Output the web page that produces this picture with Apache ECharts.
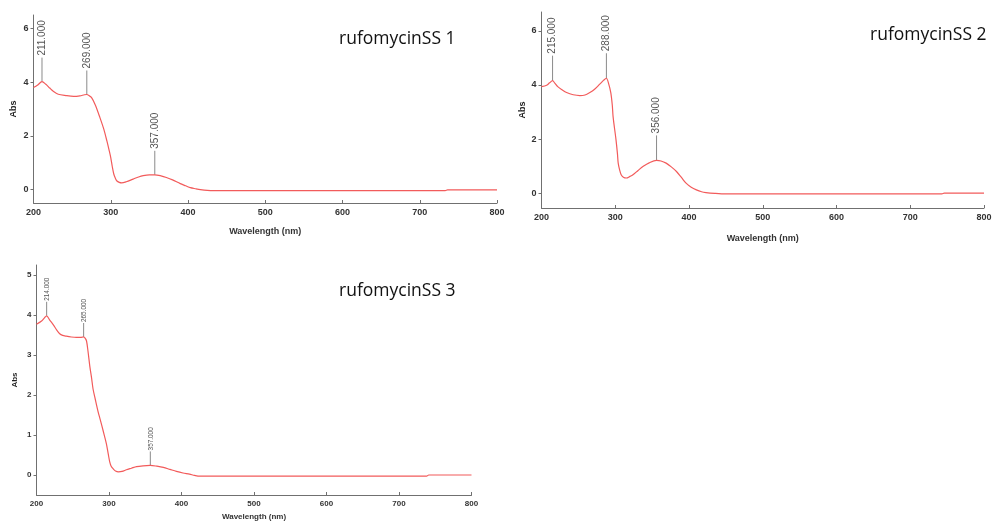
<!DOCTYPE html>
<html>
<head>
<meta charset="utf-8">
<script src="https://cdn.jsdelivr.net/npm/echarts@6/dist/echarts.min.js"></script>
<style>
html,body{margin:0;padding:0;background:#fff;}
#main{width:995px;height:522px;}
</style>
</head>
<body>
<div id="main"></div>
<script>
// ---- Data ----
var titles = ['rufomycinSS 1', 'rufomycinSS 2', 'rufomycinSS 3'];
var xTicks = [200, 300, 400, 500, 600, 700, 800];
var yTicks1 = [0, 2, 4, 6];
var yTicks2 = [0, 2, 4, 6];
var yTicks3 = [0, 1, 2, 3, 4, 5];

var spectrum1 = [
  [200, 3.80], [205, 3.88], [211, 4.02], [216, 3.92], [221, 3.78], [226, 3.65], [232, 3.55],
  [242, 3.50], [252, 3.47], [260, 3.49], [266, 3.53], [269, 3.54], [272, 3.50], [275, 3.43],
  [280, 3.15], [286, 2.68], [291, 2.25], [295, 1.81], [298, 1.45], [300, 1.19], [302, 0.85],
  [304, 0.57], [306, 0.42], [308, 0.32], [311, 0.27], [314, 0.25], [320, 0.29], [329, 0.39],
  [336, 0.47], [342, 0.52], [350, 0.55], [357, 0.55], [365, 0.51], [372, 0.45], [380, 0.36],
  [390, 0.22], [397, 0.14], [403, 0.07], [410, 0.03], [416, 0.00], [425, -0.03], [433, -0.04],
  [500, -0.04], [600, -0.04], [700, -0.04], [733, -0.04], [736, -0.01], [760, -0.01], [800, -0.01]
];
var spectrum2 = [
  [200, 3.94], [207, 3.99], [211, 4.08], [215, 4.16], [218, 4.07], [222, 3.94], [228, 3.82],
  [234, 3.72], [243, 3.64], [252, 3.61], [259, 3.63], [265, 3.71], [272, 3.84], [279, 4.03],
  [284, 4.17], [288, 4.25], [291, 4.05], [294, 3.71], [296, 3.25], [297, 2.85], [299, 2.40],
  [301, 1.98], [303, 1.45], [304, 1.11], [306, 0.85], [308, 0.68], [311, 0.59], [315, 0.56],
  [320, 0.62], [324, 0.68], [331, 0.84], [338, 0.99], [346, 1.12], [356, 1.21], [362, 1.19],
  [369, 1.11], [376, 0.97], [383, 0.80], [390, 0.57], [396, 0.37], [403, 0.22], [410, 0.12],
  [417, 0.05], [423, 0.02], [435, -0.01], [450, -0.03], [550, -0.03], [650, -0.03], [743, -0.03],
  [746, 0.00], [800, 0.00]
];
var spectrum3 = [
  [200, 3.77], [207, 3.85], [211, 3.93], [214, 3.98], [218, 3.88], [223, 3.76], [228, 3.62],
  [232, 3.53], [236, 3.49], [241, 3.47], [248, 3.45], [255, 3.44], [261, 3.44], [265, 3.45],
  [267, 3.42], [269, 3.35], [271, 3.10], [273.6, 2.71], [276, 2.42], [278, 2.15], [281, 1.90],
  [285, 1.58], [288, 1.38], [292, 1.10], [294.5, 0.92], [296.5, 0.77], [299, 0.52], [301, 0.33],
  [303, 0.22], [306, 0.15], [309, 0.10], [313, 0.08], [318, 0.09], [324, 0.13], [331, 0.17],
  [338, 0.21], [347, 0.23], [357, 0.24], [366, 0.22], [375, 0.19], [384, 0.14], [393, 0.09],
  [402, 0.05], [411, 0.02], [418, -0.01], [425, -0.03], [500, -0.03], [600, -0.03], [700, -0.03],
  [738, -0.03], [741, 0.00], [800, 0.00]
];

var peaks1 = [[211, 4.02, '211.000'], [269, 3.54, '269.000'], [357, 0.55, '357.000']];
var peaks2 = [[215, 4.16, '215.000'], [288, 4.25, '288.000'], [356, 1.21, '356.000']];
var peaks3 = [[214, 3.98, '214.000'], [265, 3.45, '265.000'], [357, 0.24, '357.000']];

// ---- Chart ----
var chart = echarts.init(document.getElementById('main'), null, {renderer: 'canvas'});
var axisColor = '#707070';
var lineColor = '#f25b5b';
var labelFont = 'Liberation Sans, Arial, sans-serif';

function xAxisFor(gridIndex, nameGap, fontSize) {
  return {
    type: 'value', gridIndex: gridIndex, min: 200, max: 800, interval: 100,
    name: 'Wavelength (nm)', nameLocation: 'middle', nameGap: nameGap,
    nameTextStyle: {color: '#333', fontWeight: 'bold', fontSize: fontSize, fontFamily: labelFont},
    axisLine: {show: true, onZero: false, lineStyle: {color: axisColor, width: 1}},
    axisTick: {show: true, inside: true, length: 3, lineStyle: {color: axisColor}},
    axisLabel: {color: '#333', fontWeight: 'bold', fontSize: fontSize, fontFamily: labelFont, margin: 5,
      customValues: xTicks},
    splitLine: {show: false}
  };
}
function yAxisFor(gridIndex, min, max, ticks, nameGap, fontSize) {
  return {
    type: 'value', gridIndex: gridIndex, min: min, max: max,
    name: 'Abs', nameLocation: 'middle', nameGap: nameGap, nameRotate: 90,
    nameTextStyle: {color: '#222', fontWeight: 'bold', fontSize: fontSize, fontFamily: labelFont},
    axisLine: {show: true, onZero: false, lineStyle: {color: axisColor, width: 1}},
    axisTick: {show: true, length: 3, lineStyle: {color: axisColor}, customValues: ticks},
    axisLabel: {color: '#333', fontWeight: 'bold', fontSize: fontSize, fontFamily: labelFont, margin: 5,
      customValues: ticks},
    splitLine: {show: false}
  };
}

function lineSeries(idx, data) {
  return {
    type: 'line', xAxisIndex: idx, yAxisIndex: idx, data: data, smooth: 0.3,
    showSymbol: false, symbol: 'none',
    lineStyle: {color: lineColor, width: 1.2}, silent: true, animation: false
  };
}
function peakSeries(idx, data, stemLen, fontSize, gap, squeeze) {
  return {
    type: 'custom', xAxisIndex: idx, yAxisIndex: idx, data: data, animation: false, silent: true,
    renderItem: function (params, api) {
      var p = api.coord([api.value(0), api.value(1)]);
      var label = data[params.dataIndex][2];
      return {
        type: 'group',
        children: [
          {type: 'line', shape: {x1: p[0], y1: p[1], x2: p[0], y2: p[1] - stemLen},
            style: {stroke: '#8a8a8a', lineWidth: 1}},
          {type: 'text', x: p[0], y: p[1] - stemLen - gap, rotation: Math.PI / 2, scaleX: squeeze,
            style: {text: label, fill: '#555', font: fontSize + 'px ' + labelFont,
              align: 'left', verticalAlign: 'middle'}}
        ]
      };
    }
  };
}

var titleStyle = {fontFamily: 'Open Sans, sans-serif', fontWeight: 'normal', fontSize: 17.5, color: '#111'};
var option = {
  backgroundColor: '#ffffff',
  animation: false,
  title: [
    {text: titles[0], left: 334, top: 25, textStyle: titleStyle},
    {text: titles[1], left: 865, top: 21, textStyle: titleStyle},
    {text: titles[2], left: 334, top: 277, textStyle: titleStyle}
  ],
  grid: [
    {left: 33.5, top: 15, width: 463.5, height: 188},
    {left: 541.5, top: 12, width: 442.5, height: 196},
    {left: 36.5, top: 265, width: 435, height: 237.5}
  ],
  xAxis: [xAxisFor(0, 24, 9), xAxisFor(1, 26, 9), xAxisFor(2, 18, 8)],
  yAxis: [
    yAxisFor(0, -0.5, 6.5, yTicks1, 15, 9),
    yAxisFor(1, -0.55, 6.7, yTicks2, 14, 9),
    yAxisFor(2, -0.5, 5.25, yTicks3, 18, 8)
  ],
  series: [
    lineSeries(0, spectrum1), peakSeries(0, peaks1, 24, 10, 2, 1),
    lineSeries(1, spectrum2), peakSeries(1, peaks2, 25, 10, 2, 1),
    lineSeries(2, spectrum3), peakSeries(2, peaks3, 14, 8, 1, 0.8)
  ]
};
chart.setOption(option);
</script>
</body>
</html>
